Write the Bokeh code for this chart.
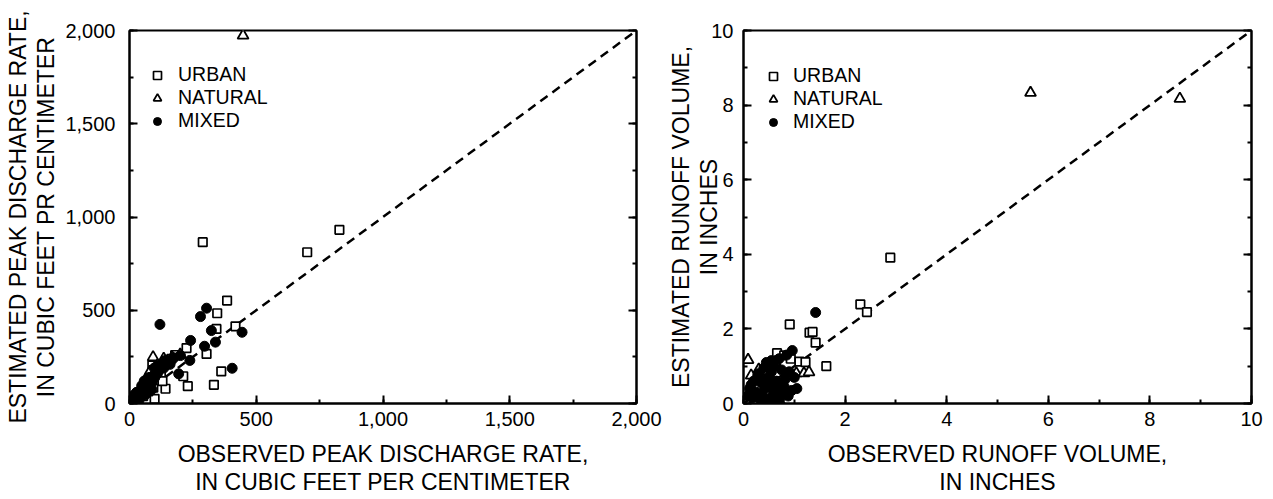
from bokeh.plotting import figure
from bokeh.layouts import row
from bokeh.models import (Range1d, LinearAxis, SingleIntervalTicker,
                          NumeralTickFormatter, CustomJSTickFormatter, BasicTickFormatter)
from bokeh.embed import file_html
from bokeh.resources import INLINE

FONT = "Liberation Sans"

# ---------------- Left panel: peak discharge rate ----------------
peak_urban_obs = [289, 701, 828, 385, 346, 418, 343, 225, 304, 90, 212, 230, 333, 362, 142, 99,
                  114, 6, 14, 24, 34, 44, 54, 64, 74, 84, 94, 104, 124, 130, 180, 165]
peak_urban_est = [865, 811, 931, 552, 484, 414, 400, 297, 266, 204, 146, 93, 100, 172, 79, 25,
                  186, 8, 20, 30, 25, 60, 40, 75, 65, 100, 85, 125, 160, 120, 260, 240]
peak_natural_obs = [448, 93, 168, 4, 16, 30, 48, 62, 80, 110, 135, 200]
peak_natural_est = [1973, 248, 248, 10, 35, 20, 75, 100, 170, 205, 240, 262]
peak_mixed_obs = [120, 304, 280, 323, 444, 241, 296, 339, 405, 201, 238, 194, 142, 70, 116,
                  5, 10, 15, 20, 25, 30, 35, 40, 45, 50, 55, 60, 65, 70, 75, 80, 85, 90, 95,
                  100, 105, 110, 12, 22, 8, 3, 18, 28, 38, 48, 58, 68, 78, 88, 98, 108, 125,
                  135, 150, 160, 175]
peak_mixed_est = [424, 511, 466, 391, 382, 338, 307, 329, 189, 257, 231, 159, 231, 132, 177,
                  5, 15, 8, 25, 18, 40, 30, 55, 38, 70, 60, 45, 90, 80, 110, 95, 130, 115, 150,
                  140, 170, 160, 30, 10, 2, 12, 45, 60, 20, 95, 120, 55, 140, 75, 190, 200, 210,
                  190, 230, 210, 245]

# ---------------- Right panel: runoff volume ----------------
vol_urban_obs = [2.89, 2.30, 2.43, 0.91, 1.30, 1.36, 1.42, 1.63, 0.66, 0.80, 0.93, 1.10, 1.22,
                 0.35, 0.50, 0.20, 0.60, 0.45, 0.75, 0.28]
vol_urban_est = [3.91, 2.66, 2.45, 2.12, 1.90, 1.92, 1.63, 1.00, 1.35, 1.29, 1.20, 1.12, 1.11,
                 0.25, 0.55, 0.10, 0.15, 0.90, 0.60, 0.45]
vol_natural_obs = [5.65, 8.59, 0.09, 0.30, 0.62, 1.04, 1.19, 1.29, 0.15, 0.22, 0.45, 0.70, 0.55]
vol_natural_est = [8.33, 8.17, 1.17, 0.91, 1.11, 0.81, 0.81, 0.84, 0.75, 0.05, 0.30, 0.10, 0.65]
vol_mixed_obs = [1.42, 0.96, 0.85, 0.70, 0.55, 0.45, 0.40, 0.60, 0.75, 0.90, 1.00, 0.30, 0.20,
                 0.12, 0.25, 0.35, 0.50, 0.65, 0.80, 0.95, 0.18, 0.08, 0.42, 0.58, 0.72, 0.88,
                 0.33, 0.48, 0.62, 0.78, 1.05, 0.15, 0.28, 0.38, 0.52, 0.68, 0.82, 0.40, 0.55,
                 0.70]
vol_mixed_est = [2.44, 1.42, 1.30, 1.20, 1.15, 1.10, 0.95, 1.00, 0.90, 0.85, 0.70, 0.80, 0.60,
                 0.40, 0.30, 0.55, 0.70, 0.60, 0.45, 0.35, 0.15, 0.20, 0.40, 0.25, 0.15, 0.20,
                 0.10, 0.05, 0.08, 0.30, 0.40, 0.50, 0.75, 0.20, 0.45, 0.35, 0.65, 0.62, 0.85,
                 0.50]

legend_labels = ["URBAN", "NATURAL", "MIXED"]


def make_panel(width, bl, br, vmax, interval, formatter, xlabel, ylabel, data, leg_loc,
               ylab_standoff, ytick_standoff, leg_standoff):
    p = figure(width=width, height=499, x_range=Range1d(0, vmax), y_range=Range1d(0, vmax),
               output_backend="svg", toolbar_location=None,
               min_border_left=bl, min_border_right=br, min_border_top=30, min_border_bottom=96,
               x_axis_label=xlabel, y_axis_label=ylabel)
    p.grid.visible = False
    p.outline_line_color = "black"
    p.outline_line_width = 2
    p.background_fill_color = "white"
    p.border_fill_color = "white"

    for ax in (p.xaxis[0], p.yaxis[0]):
        ax.ticker = SingleIntervalTicker(interval=interval, num_minor_ticks=2)
        ax.formatter = formatter
        ax.major_tick_in = 8
        ax.major_tick_out = 0
        ax.minor_tick_in = 4
        ax.minor_tick_out = 0
        ax.axis_line_width = 2
        ax.major_tick_line_width = 2
        ax.minor_tick_line_width = 2
        ax.major_label_text_font = FONT
        ax.major_label_text_font_size = "20px"
        ax.major_label_text_color = "black"
        ax.axis_label_text_font = FONT
        ax.axis_label_text_font_size = "23px"
        ax.axis_label_text_font_style = "normal"
        ax.axis_label_text_color = "black"
        ax.axis_label_text_line_height = 1.1
    p.xaxis[0].major_label_standoff = 8
    p.xaxis[0].axis_label_standoff = 12
    p.yaxis[0].major_label_standoff = ytick_standoff
    p.yaxis[0].axis_label_standoff = ylab_standoff

    right_ax = LinearAxis(ticker=SingleIntervalTicker(interval=interval, num_minor_ticks=2),
                          formatter=CustomJSTickFormatter(code="return ''"),
                          major_tick_in=8, major_tick_out=0, minor_tick_in=4, minor_tick_out=0,
                          axis_line_width=2, major_tick_line_width=2, minor_tick_line_width=2,
                          major_label_standoff=0, major_label_text_font_size="1px")
    p.add_layout(right_ax, "right")

    p.line([0, vmax], [0, vmax], line_color="black", line_width=2.5, line_dash="9 6")

    (ux, uy), (nx, ny), (mx, my) = data
    p.scatter(ux, uy, marker="square", size=8.5, fill_color="white", line_color="black",
              line_width=1.7, legend_label=legend_labels[0])
    p.scatter(nx, ny, marker="triangle", size=11, fill_color="white", line_color="black",
              line_width=1.8, legend_label=legend_labels[1])
    p.scatter(mx, my, marker="circle", size=10, fill_color="black", line_color="black",
              line_width=1, legend_label=legend_labels[2])

    lg = p.legend[0]
    lg.location = leg_loc
    lg.padding = 0
    lg.margin = 0
    lg.spacing = 0
    lg.glyph_width = 20
    lg.glyph_height = 22
    lg.label_height = 22
    lg.label_standoff = leg_standoff
    lg.label_text_font = FONT
    lg.label_text_font_size = "19.5px"
    lg.label_text_color = "black"
    lg.border_line_alpha = 0
    lg.background_fill_alpha = 0
    return p


left = make_panel(663, 129, 27, 2000, 500, NumeralTickFormatter(format="0,0"),
                  "OBSERVED PEAK DISCHARGE RATE,\nIN CUBIC FEET PER CENTIMETER",
                  "ESTIMATED PEAK DISCHARGE RATE,\nIN CUBIC FEET PR CENTIMETER",
                  [(peak_urban_obs, peak_urban_est), (peak_natural_obs, peak_natural_est),
                   (peak_mixed_obs, peak_mixed_est)],
                  (18, 271), 3, 14, 11)

right = make_panel(610, 80, 22, 10, 2, BasicTickFormatter(),
                   "OBSERVED RUNOFF VOLUME,\nIN INCHES",
                   "ESTIMATED RUNOFF VOLUME,\nIN INCHES",
                   [(vol_urban_obs, vol_urban_est), (vol_natural_obs, vol_natural_est),
                    (vol_mixed_obs, vol_mixed_est)],
                   (20, 270), -14, 10, 10)

layout = row(left, right, spacing=0)
open("out.html", "w").write(file_html(layout, INLINE))
